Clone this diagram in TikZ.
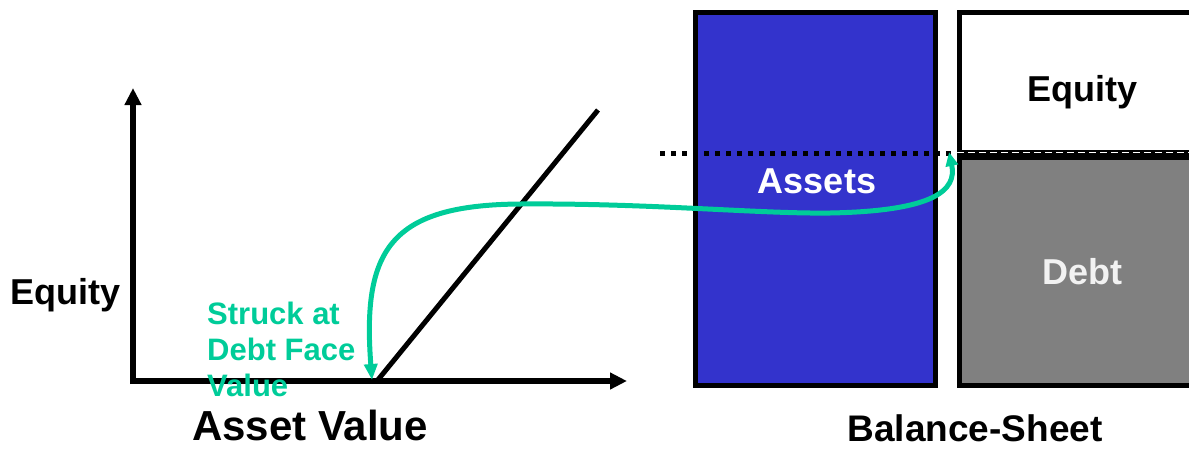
\documentclass[tikz,border=0pt]{standalone}
\usepackage{fontspec}
\setmainfont{Liberation Sans}
\usetikzlibrary{arrows.meta}
\definecolor{assetblue}{HTML}{3333CC}
\definecolor{strikegreen}{HTML}{00CC99}
\definecolor{debtgray}{HTML}{808080}
\begin{document}
\begin{tikzpicture}[x=1pt,y=-1pt,
  axisline/.style={line width=5.5pt,-{Triangle[length=17pt,width=16pt]}},
  boxline/.style={line width=5pt},
  lbl/.style={font=\bfseries, inner sep=0pt},
  greenarrow/.style={strikegreen,line width=5pt,{Triangle[length=16pt,width=13pt]}-{Triangle[length=14pt,width=12pt]}}]
\useasboundingbox (0,0) rectangle (1189,448);
\clip (0,0) rectangle (1189,448);
% axes
\coordinate (ytip) at (133,88);
\coordinate (xtip) at (627,381);
\coordinate (K) at (377,381);
\coordinate (P) at (598,110);
\draw[axisline] (133,384) -- (ytip);
\draw[axisline] (130.5,381) -- (xtip);
\draw[line width=5pt] (K) -- (P);
% balance sheet
\node[draw,boxline,fill=assetblue,minimum width=240pt,minimum height=373pt,anchor=north west,inner sep=0pt] (assets) at (693,10) {};
\node[draw,boxline,fill=white,minimum width=260pt,minimum height=140pt,anchor=north west,inner sep=0pt] (equitybox) at (957,10) {};
\node[draw,boxline,fill=debtgray,minimum width=260pt,minimum height=228pt,anchor=north west,inner sep=0pt] (debtbox) at (957,155) {};
\draw[white,line width=1.5pt,dash pattern=on 7pt off 4pt] (957,152.5) -- (1189,152.5);
\coordinate (dotL) at (660,153);
\coordinate (dotR) at (957,153);
\draw[line width=5pt,dash pattern=on 5pt off 6pt] (dotL) -- (dotR);
% labels
\node[lbl,font=\bfseries\fontsize{36}{40}\selectfont,anchor=base west] (eqlbl) at (10,304) {Equity};
\node[lbl,font=\bfseries\fontsize{42}{46}\selectfont,anchor=base] (avlbl) at (310,440) {Asset Value};
\node[lbl,font=\bfseries\fontsize{37}{40}\selectfont,anchor=base] (bslbl) at (975,441) {Balance-Sheet};
\node[lbl,font=\bfseries\fontsize{36}{40}\selectfont,anchor=base] (eqtxt) at (1082,101) {Equity};
\node[lbl,font=\bfseries\fontsize{36}{40}\selectfont,anchor=base,text=white] (astxt) at (817,193) {Assets};
\node[lbl,font=\bfseries\fontsize{36}{40}\selectfont,anchor=base,text=white!95!black] (dbtxt) at (1082,284) {Debt};
\node[lbl,font=\bfseries\fontsize{31}{36}\selectfont,anchor=base west,text=strikegreen] (s1) at (207,324) {Struck at};
\node[lbl,font=\bfseries\fontsize{31}{36}\selectfont,anchor=base west,text=strikegreen] (s2) at (207,360) {Debt Face};
\node[lbl,font=\bfseries\fontsize{31}{36}\selectfont,anchor=base west,text=strikegreen] (s3) at (207,396) {Value};
% green connector
\coordinate (gA) at (372,380);
\coordinate (gB) at (949,152);
\draw[greenarrow] (gA) .. controls (362,250) and (390,205) .. (520,204)
  .. controls (650,203) and (760,214) .. (830,213)
  .. controls (935,211) and (957,190) .. (gB);
\end{tikzpicture}
\end{document}
